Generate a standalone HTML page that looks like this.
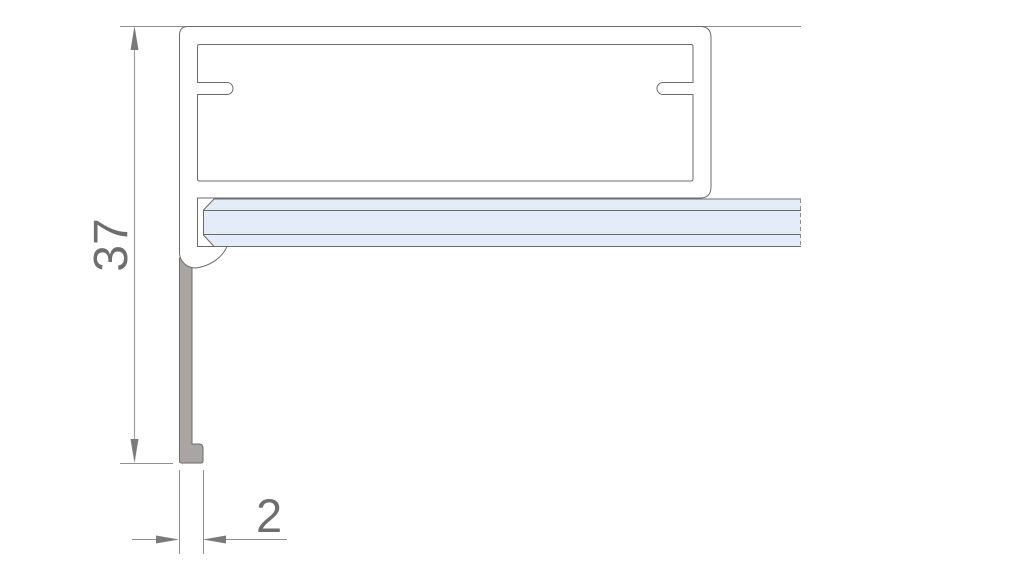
<!DOCTYPE html>
<html><head><meta charset="utf-8"><style>
html,body{margin:0;padding:0;background:#fff;}
svg{display:block;}
</style></head><body>
<svg width="1024" height="576" viewBox="0 0 1024 576" xmlns="http://www.w3.org/2000/svg">
<!-- extension lines -->
<line x1="120" y1="26.5" x2="801" y2="26.5" stroke="#8f8f8f" stroke-width="1"/>
<line x1="120" y1="463.5" x2="173" y2="463.5" stroke="#8f8f8f" stroke-width="1"/>
<line x1="179.5" y1="470" x2="179.5" y2="554" stroke="#8f8f8f" stroke-width="1"/>
<line x1="203.5" y1="470" x2="203.5" y2="554" stroke="#8f8f8f" stroke-width="1"/>
<!-- vertical dimension -->
<line x1="134.5" y1="30" x2="134.5" y2="460" stroke="#a0a0a0" stroke-width="1.2"/>
<polygon points="134.5,26 130.5,50 138.5,50" fill="#7a7a7a"/>
<polygon points="134.5,463 130.5,439 138.5,439" fill="#7a7a7a"/>
<!-- horizontal dimension -->
<line x1="132" y1="539.5" x2="176" y2="539.5" stroke="#8f8f8f" stroke-width="1"/>
<line x1="206" y1="539.5" x2="287" y2="539.5" stroke="#8f8f8f" stroke-width="1"/>
<polygon points="179,539.5 156,535.5 156,543.5" fill="#7a7a7a"/>
<polygon points="203,539.5 226,535.5 226,543.5" fill="#7a7a7a"/>
<!-- texts -->
<text x="256" y="532" font-family="Liberation Sans, sans-serif" font-size="47" fill="#6e6e6e">2</text>
<text transform="translate(127,245) rotate(-90)" text-anchor="middle" x="0" y="0" font-family="Liberation Sans, sans-serif" font-size="48" fill="#6e6e6e">37</text>
<!-- gray strip -->
<path d="M179.5 258 V461 q0 2 2 2 H201 q2 0 2 -2 V448 q0 -4 -4 -4 H192 V262 Z" fill="#a9a5a3" stroke="#6e6a6a" stroke-width="1"/>
<!-- profile outer -->
<path d="M179.5 253 V35 q0 -8.5 8.5 -8.5 H700 q11 0 11 11 V187 q0 11 -11 11 H197.5 V246.5 H227 C222 258 210 266 196 268 C187 268 180 262 179.5 253 Z" fill="#fff" stroke="#6e6a6a" stroke-width="1"/>
<!-- inner box -->
<path d="M199.5 44.5 H691 q2 0 2 2 V82.5 H663 a6 6 0 0 0 0 12 H693 V179 q0 2 -2 2 H199.5 q-2 0 -2 -2 V94.5 H227 a6 6 0 0 0 0 -12 H197.5 V46.5 q0 -2 2 -2 Z" fill="#fff" stroke="#6e6a6a" stroke-width="1"/>
<!-- glass -->
<polygon points="214,199 801,199 801,246.5 214,246.5 203.5,235 203.5,210" fill="#e4edf7"/>
<path d="M801 199 H214 L203.5 210 V235 L214 246.5 H801" fill="none" stroke="#6e6a6a" stroke-width="1"/>
<line x1="203.5" y1="210.5" x2="801" y2="210.5" stroke="#6e6a6a" stroke-width="1"/>
<line x1="203.5" y1="234.5" x2="801" y2="234.5" stroke="#6e6a6a" stroke-width="1"/>
<line x1="800.5" y1="199" x2="800.5" y2="247" stroke="#8f8f8f" stroke-width="1" stroke-dasharray="4,3"/>
</svg>
</body></html>
